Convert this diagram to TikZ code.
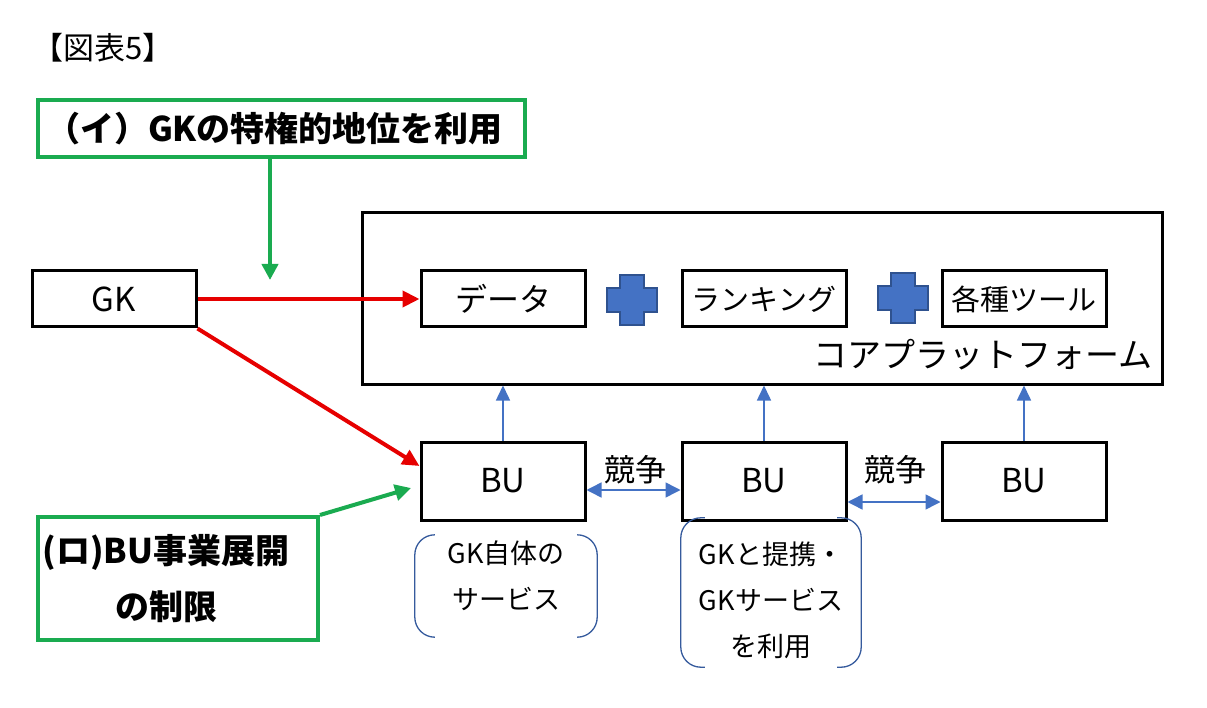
\documentclass[tikz,border=0pt]{standalone}
\usepackage{fontspec}
\setmainfont{Noto Sans CJK JP}
\usetikzlibrary{arrows.meta}
\definecolor{okgreen}{HTML}{1AAB50}
\definecolor{okred}{HTML}{E60000}
\definecolor{okblue}{HTML}{4472C4}
\definecolor{okdark}{HTML}{2F528F}
\newcommand{\fs}[2]{\fontsize{#1}{#2}\selectfont}

\begin{document}
\begin{tikzpicture}[x=1pt,y=-1pt,
  box/.style={draw, line width=3pt, inner xsep=2pt, minimum width=164pt, minimum height=56pt, font=\fs{29}{36}},
  bubox/.style={box, minimum height=78pt, font=\fs{33}{40}},
  greenbox/.style={draw=okgreen, line width=4pt, font=\bfseries\fs{34}{40}},
  redarrow/.style={okred, line width=4pt, -{Triangle[length=17pt,width=16pt]}},
  greenarrow/.style={okgreen, line width=4pt, -{Triangle[length=16pt,width=16pt]}},
  bluearrow/.style={okblue, line width=1.5pt, -{Triangle[length=15pt,width=14pt]}},
  bluedouble/.style={okblue, line width=1.5pt, {Triangle[length=15pt,width=15pt]}-{Triangle[length=15pt,width=15pt]}},
  bracketline/.style={okblue!80!black, line width=1.3pt, rounded corners=20pt},
  svctext/.style={align=center, font=\fs{27}{32}},
  plussign/.pic={
    \filldraw[fill=okblue, draw=okdark, line width=2pt]
      (-25,-12) -- (-12,-12) -- (-12,-25) -- (12,-25) -- (12,-12) -- (25,-12)
      -- (25,12) -- (12,12) -- (12,25) -- (-12,25) -- (-12,12) -- (-25,12) -- cycle;
  }]
  \useasboundingbox (0,0) rectangle (1207,708);

  \node[font=\fs{31}{36}] (title) at (103,48) {【図表5】};

  % core platform
  \node[draw, line width=3pt, minimum width=800pt, minimum height=171pt] (core) at (762,298.5) {};
  \node[font=\fs{34}{40}] (corename) at (983,355) {コアプラットフォーム};
  \node[box, font=\fs{32}{38}] (data) at (503,299) {データ};
  \node[box] (rank) at (764,299) {ランキング};
  \node[box] (tools) at (1024,299) {各種ツール};
  \pic at (632,300) {plussign};
  \pic at (903,298) {plussign};

  \node[box, font=\fs{33}{40}] (gk) at (114,299) {GK};

  % business units
  \node[bubox] (bu1) at (503,481) {BU};
  \node[bubox] (bu2) at (764,481) {BU};
  \node[bubox] (bu3) at (1024,481) {BU};
  \draw[bluearrow] (bu1.north) -- (bu1.north |- core.south);
  \draw[bluearrow] (bu2.north) -- (bu2.north |- core.south);
  \draw[bluearrow] (bu3.north) -- (bu3.north |- core.south);
  \draw[bluedouble] ([yshift=-9pt]bu1.east) -- ([yshift=-9pt]bu2.west);
  \draw[bluedouble] ([yshift=-21pt]bu2.east) -- ([yshift=-21pt]bu3.west);
  \node[font=\fs{31}{36}] (comp1) at (635,470) {競争};
  \node[font=\fs{31}{36}] (comp2) at (895,470) {競争};

  % services under BU
  \node[minimum width=182pt, minimum height=102pt] (svc1) at (506,586) {};
  \draw[bracketline] ([xshift=20pt]svc1.north west) -- (svc1.north west) -- (svc1.south west) -- ([xshift=20pt]svc1.south west);
  \draw[bracketline] ([xshift=-20pt]svc1.north east) -- (svc1.north east) -- (svc1.south east) -- ([xshift=-20pt]svc1.south east);
  \node[svctext] (svc1text) at ([yshift=10pt]svc1.center) {GK自体の\\[14pt]サービス};
  \node[minimum width=180pt, minimum height=149pt] (svc2) at (771,592.5) {};
  \draw[bracketline] ([xshift=24pt]svc2.north west) -- (svc2.north west) -- (svc2.south west) -- ([xshift=24pt]svc2.south west);
  \draw[bracketline] ([xshift=-24pt]svc2.north east) -- (svc2.north east) -- (svc2.south east) -- ([xshift=-24pt]svc2.south east);
  \node[svctext] (svc2text) at ([yshift=-8pt]svc2.center) {GKと提携・\\[14pt]GKサービス\\[14pt]を利用};

  % GK arrows
  \draw[redarrow] (gk.east) -- (data.west);
  \draw[redarrow] (gk.south east) -- ([yshift=15pt]bu1.west);

  % (i) and (ro)
  \node[greenbox, minimum width=487pt, minimum height=57pt] (ibox) at (281.5,128.5) {\hspace*{-14pt}（イ）GKの特権的地位を利用};
  \coordinate (itip) at (270,280);
  \draw[greenarrow] (ibox.south -| itip) -- (itip);
  \node[greenbox, minimum width=280pt, minimum height=123pt, align=center] (robox) at (178,578.5)
    {\hspace*{-24pt}(ロ)BU事業展開\\[16pt]\hspace*{-24pt}の制限};
  \coordinate (rotip) at (411,488);
  \draw[greenarrow] (robox.north east) -- (rotip);
\end{tikzpicture}
\end{document}
